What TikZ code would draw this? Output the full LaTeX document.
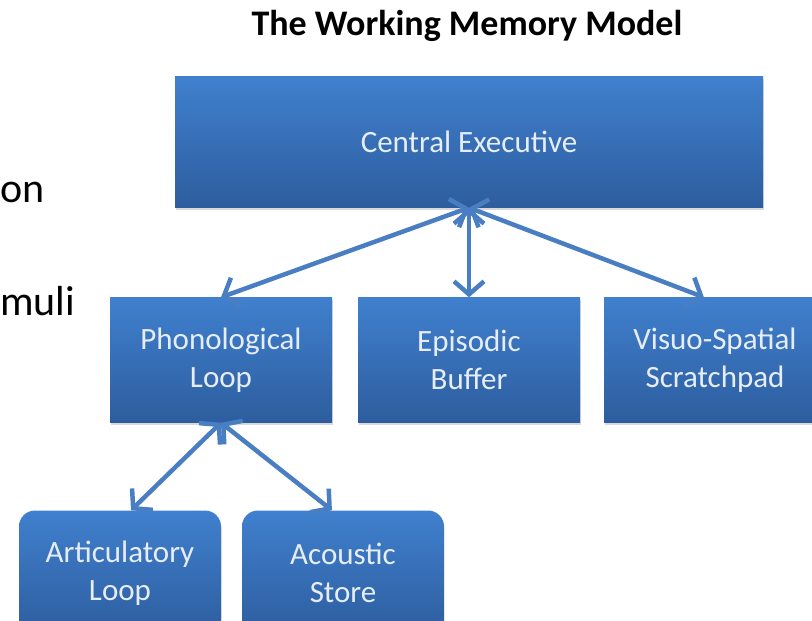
\documentclass[tikz,border=0pt]{standalone}
\usepackage{fontspec}
\setmainfont{Carlito}
\usetikzlibrary{arrows.meta,shadows}
\definecolor{boxtop}{RGB}{64,128,206}
\definecolor{boxbot}{RGB}{45,93,158}
\definecolor{linkblue}{RGB}{74,126,194}
\definecolor{boxtext}{RGB}{230,237,247}

\begin{document}
\begin{tikzpicture}
[x=1pt,y=-1pt,
block/.style={rectangle,top color=boxtop,bottom color=boxbot,draw=none,text=boxtext,align=center,font=\fontsize{31}{38}\selectfont,inner sep=0pt,minimum height=125pt,minimum width=222pt,drop shadow={shadow xshift=0.5pt,shadow yshift=-2pt,opacity=0.3}},
leaf/.style={block,rounded corners=16pt,minimum width=202pt},
link/.style={{Straight Barb[length=13pt,width=30pt]}-{Straight Barb[length=13pt,width=30pt]},line width=4.5pt,draw=linkblue}]
\useasboundingbox (0,0) rectangle (812,621);
\clip (0,0) rectangle (812,621);

\node[anchor=base] (title) at (467,35) {\fontsize{36}{40}\selectfont\bfseries The Working Memory Model};
\node[anchor=base west,inner sep=0pt] (on) at (0,202) {\fontsize{42}{48}\selectfont on};
\node[anchor=base west,inner sep=0pt] (muli) at (0,315) {\fontsize{42}{48}\selectfont muli};

\node[block,minimum width=588pt,minimum height=131pt] (ce) at (469,142) {Central Executive};
\node[block] (pl) at (221,360) {Phonological\\Loop};
\node[block] (eb) at (469,360) {Episodic\\Buffer};
\node[block] (vs) at (715,360) {Visuo-Spatial\\Scratchpad};
\node[leaf] (al) at (120,573) {Articulatory\\Loop};
\node[leaf] (as) at (343,573) {Acoustic\\Store};

\draw[link] (ce.south) -- (pl.north);
\draw[link] (ce.south) -- (eb.north);
\draw[link] (ce.south) -- (vs.100);
\draw[link] (pl.south) -- (al.80);
\draw[link] (pl.south) -- (as.100);
\end{tikzpicture}
\end{document}
